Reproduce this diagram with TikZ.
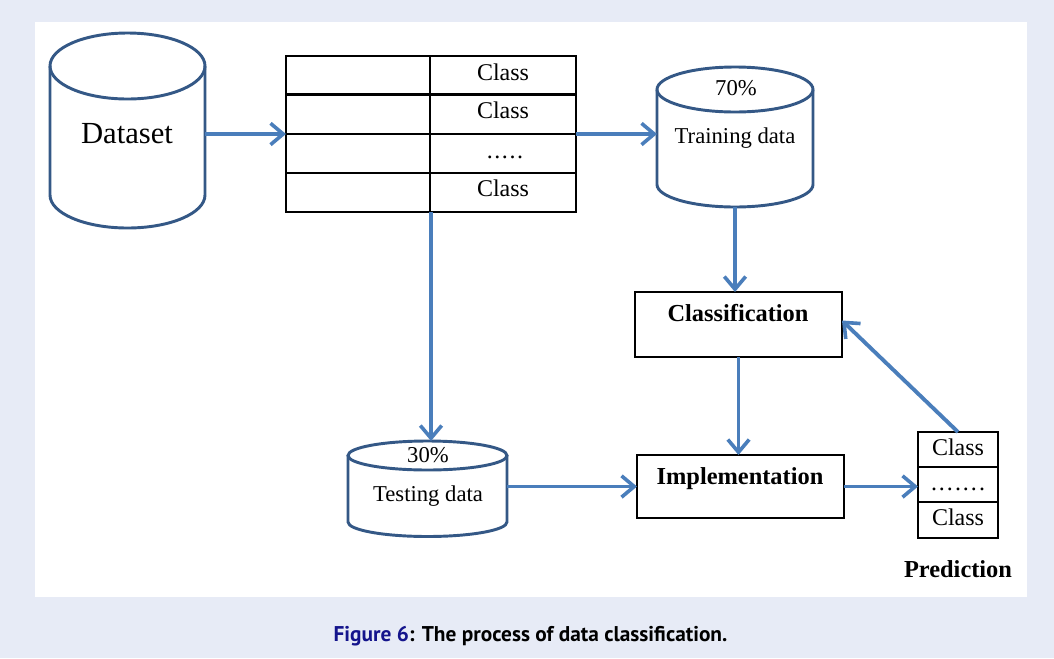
\documentclass[tikz,border=0pt]{standalone}
\usepackage{fontspec}
\setmainfont{Liberation Serif}
\newfontfamily\capfont{PT Sans}
\usetikzlibrary{arrows.meta,fit}
\definecolor{bgcol}{RGB}{231,235,246}
\definecolor{arrowblue}{RGB}{74,126,187}
\definecolor{cylblue}{RGB}{52,88,134}
\definecolor{figblue}{RGB}{20,20,140}
\newcommand\drawcyl[5]{% cx, rx, ytop, ybot, ry
  \draw[cylline] (#1-#2,#3) -- (#1-#2,#4) arc[start angle=180,end angle=0,x radius=#2,y radius=#5] -- (#1+#2,#3);
  \draw[cylline] (#1,#3) ellipse[x radius=#2, y radius=#5];
}
\newcommand\pdots{.\kern1.5pt.\kern1.5pt.\kern1.5pt.\kern1.5pt.\kern1.5pt.\kern1.5pt.}
\newcommand\tdots{.\kern1.2pt.\kern1.2pt.\kern1.2pt.\kern1.2pt.}
\begin{document}
\begin{tikzpicture}[x=0.75pt,y=-0.75pt,
  cylline/.style={draw=cylblue,line width=2.2pt},
  boxline/.style={draw=black,line width=1.6pt},
  arr/.style={draw=arrowblue,line width=2.9pt,-{Straight Barb[length=9.5pt,width=16pt,line width=2.7pt]}},
  area/.style={inner sep=0pt,outer sep=0pt},
  txt/.style={inner sep=0pt,anchor=base,font=\fontsize{17}{20}\selectfont},
  bigtxt/.style={inner sep=0pt,anchor=base,font=\fontsize{23}{26}\selectfont},
  celltxt/.style={inner sep=0pt,anchor=base,font=\fontsize{18}{21}\selectfont},
  boldtxt/.style={inner sep=0pt,anchor=base,font=\fontsize{18.3}{21}\selectfont\bfseries},
]
\useasboundingbox (0,0) rectangle (1054,658);
\fill[bgcol] (0,0) rectangle (1054,658);
\fill[white] (35,22) rectangle (1027,597);

% areas (named nodes)
\node[area,fit={(50,33)(205,228)}] (ds) {};
\node[area,fit={(286,56)(576,212)}] (tab) {};
\node[area,fit={(657,67)(813,207)}] (tr) {};
\node[area,fit={(348,441)(507,537)}] (te) {};
\node[area,fit={(635,292)(842,357)}] (cl) {};
\node[area,fit={(637,455)(844,518)}] (im) {};
\node[area,fit={(918,432)(998,538)}] (pr) {};

% cylinders
\drawcyl{127.5}{77.5}{66}{195}{33}
\drawcyl{735}{78}{89.5}{184.5}{22.5}
\drawcyl{427.5}{79.5}{455.5}{522}{14.5}

% table
\draw[boxline] (286,56) rectangle (576,212);
\draw[boxline] (286,94.5) -- (576,94.5);
\draw[boxline] (286,134) -- (576,134);
\draw[boxline] (286,173) -- (576,173);
\draw[boxline] (430,56) -- (430,212);

% boxes
\draw[boxline] (635,292) rectangle (842,357);
\draw[boxline] (637,455) rectangle (844,518);
\draw[boxline] (918,432) rectangle (998,538);
\draw[boxline] (918,467) -- (998,467);
\draw[boxline] (918,502) -- (998,502);

% texts
\node[bigtxt] (dst) at (127,143) {Dataset};
\node[celltxt] (c1) at (503,80) {Class};
\node[celltxt] (c2) at (503,118.5) {Class};
\node[celltxt] (c3) at (505,158) {\tdots};
\node[celltxt] (c4) at (503,196.5) {Class};
\node[txt] (p70) at (736,95) {70\%};
\node[txt] (trt) at (735,143.5) {Training data};
\node[txt] (p30) at (428,462.5) {30\%};
\node[txt] (tet) at (428,501) {Testing data};
\node[boldtxt] (clt) at (738,321.5) {Classification};
\node[boldtxt] (imt) at (740,484.5) {Implementation};
\node[celltxt] (pc1) at (958,455) {Class};
\node[celltxt] (pc2) at (958,490.5) {\pdots};
\node[celltxt] (pc3) at (958,525) {Class};
\node[boldtxt] (prt) at (958,577) {Prediction};

% arrows
\draw[arr] (ds.east |- tab.west) -- (tab.west);
\draw[arr] (tab.east) -- (tab.east -| tr.west);
\draw[arr] (tab.south) -- (tab.south |- te.north);
\draw[arr] (tr.south) -- (tr.south |- cl.north);
\draw[arr] (cl.south) -- (cl.south |- im.north);
\draw[arr] (te.east |- im.west) -- (im.west);
\draw[arr] (im.east) -- (im.east -| pr.west);
\draw[arr] (pr.north) -- ([yshift=3pt]cl.east);

% caption
\node[inner sep=0pt,anchor=base,font=\capfont\bfseries\fontsize{16}{19}\selectfont] (cap) at (530.5,641.5)
  {\textcolor{figblue}{Figure 6}: The process of data classification.};
\end{tikzpicture}
\end{document}
